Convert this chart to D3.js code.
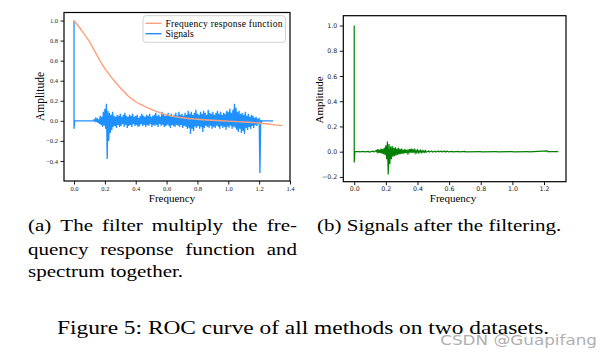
<!DOCTYPE html>
<html>
<head>
<meta charset="utf-8">
<script src="https://cdn.jsdelivr.net/npm/d3@7"></script>
<style>body{margin:0;background:#fff}</style>
</head>
<body>
<div id="fig"></div>
<script>
// frequency response function (left panel, orange)
const respFreq = [0, 0.05, 0.1, 0.15, 0.2, 0.25, 0.3, 0.35, 0.4, 0.45, 0.5, 0.55, 0.6, 0.7, 0.8, 0.9, 1.0, 1.1, 1.2, 1.3, 1.35];
const respAmp  = [1.0, 0.90, 0.79, 0.65, 0.52, 0.42, 0.33, 0.25, 0.19, 0.15, 0.115, 0.085, 0.06, 0.03, 0.015, 0.005, -0.003, -0.012, -0.022, -0.04, -0.048];

// raw signal (left panel, blue): [freq, high, low] of the noisy band
const signalRaw = [
  [0.13,.01,-.005],[0.14,.02,-.01],[0.15,.03,-.02],[0.16,.015,-.03],[0.17,.05,-.04],[0.18,.04,-.06],
  [0.19,.09,-.05],[0.20,.12,-.08],[0.21,.17,-.38],[0.22,.10,-.20],[0.23,.08,-.12],[0.24,.06,-.09],
  [0.25,.09,-.06],[0.26,.05,-.05],[0.27,.04,-.07],[0.28,.06,-.04],[0.29,.05,-.06],[0.30,.07,-.05],
  [0.31,.04,-.03],[0.32,.06,-.06],[0.33,.08,-.04],[0.34,.05,-.07],[0.35,.04,-.05],[0.36,.06,-.04],
  [0.37,.05,-.06],[0.38,.07,-.03],[0.39,.04,-.05],[0.40,.05,-.04],[0.41,.06,-.06],[0.42,.03,-.05],
  [0.43,.05,-.03],[0.44,.07,-.05],[0.45,.05,-.04],[0.46,.04,-.06],[0.47,.06,-.04],[0.48,.05,-.05],
  [0.49,.07,-.03],[0.50,.04,-.06],[0.51,.05,-.04],[0.52,.06,-.05],[0.53,.08,-.04],[0.54,.05,-.06],
  [0.55,.06,-.03],[0.56,.04,-.05],[0.57,.09,-.04],[0.58,.07,-.06],[0.59,.05,-.05],[0.60,.06,-.04],
  [0.61,.08,-.05],[0.62,.05,-.07],[0.63,.07,-.04],[0.64,.04,-.05],[0.65,.06,-.06],[0.66,.08,-.04],
  [0.67,.05,-.05],[0.68,.09,-.06],[0.69,.06,-.04],[0.70,.07,-.07],[0.71,.05,-.05],[0.72,.08,-.06],
  [0.73,.06,-.08],[0.74,.10,-.07],[0.75,.07,-.13],[0.76,.09,-.08],[0.77,.06,-.10],[0.78,.08,-.06],
  [0.79,.11,-.07],[0.80,.07,-.05],[0.81,.06,-.08],[0.82,.09,-.06],[0.83,.07,-.11],[0.84,.10,-.07],
  [0.85,.08,-.05],[0.86,.06,-.06],[0.87,.11,-.07],[0.88,.08,-.05],[0.89,.07,-.08],[0.90,.09,-.06],
  [0.91,.06,-.07],[0.92,.08,-.05],[0.93,.10,-.06],[0.94,.07,-.08],[0.95,.09,-.05],[0.96,.06,-.07],
  [0.97,.08,-.06],[0.98,.07,-.09],[0.99,.10,-.06],[1.00,.09,-.07],[1.01,.12,-.05],[1.02,.08,-.08],
  [1.03,.11,-.06],[1.04,.17,-.07],[1.05,.13,-.09],[1.06,.09,-.11],[1.07,.10,-.08],[1.08,.07,-.12],
  [1.09,.08,-.10],[1.10,.06,-.13],[1.11,.09,-.07],[1.12,.05,-.09],[1.13,.07,-.06],[1.14,.04,-.08],
  [1.15,.06,-.05],[1.16,.05,-.07],[1.17,.03,-.04],[1.18,.04,-.05],[1.19,.02,-.03],[1.20,.03,-.52],
  [1.21,.01,-.02]
];
const signalRawEnd = 1.29;

// filtered signal (right panel, green): [freq, high, low]
const signalFilt = [
  [0.03,.002,-.002],[0.06,.003,-.002],[0.09,.002,-.003],[0.12,.004,-.002],[0.14,.01,-.005],
  [0.15,.02,-.01],[0.16,.015,-.01],[0.17,.025,-.015],[0.18,.02,-.02],[0.19,.03,-.025],[0.20,.05,-.06],
  [0.21,.08,-.18],[0.22,.06,-.10],[0.23,.04,-.06],[0.24,.045,-.04],[0.25,.03,-.035],[0.26,.035,-.03],
  [0.27,.025,-.025],[0.28,.03,-.02],[0.29,.02,-.02],[0.30,.025,-.015],[0.31,.015,-.015],[0.32,.02,-.01],
  [0.33,.015,-.012],[0.34,.01,-.01],[0.35,.02,-.008],[0.36,.025,-.01],[0.37,.02,-.008],[0.38,.015,-.01],
  [0.39,.01,-.006],[0.40,.012,-.008],[0.41,.008,-.005],[0.42,.01,-.006],[0.43,.008,-.005],[0.44,.006,-.004],
  [0.45,.008,-.004],[0.47,.005,-.003],[0.49,.006,-.003],[0.51,.004,-.003],[0.53,.005,-.002],[0.55,.004,-.003],
  [0.57,.006,-.002],[0.59,.004,-.002],[0.62,.003,-.002],[0.66,.002,-.002],[0.70,.002,-.001],[0.80,.001,-.001],
  [0.90,.001,-.001],[1.00,.001,-.001],[1.10,.001,-.001],[1.22,.006,-.001]
];
const signalFiltEnd = 1.29;

const ticksA_x = [0, 0.2, 0.4, 0.6, 0.8, 1.0, 1.2, 1.4];
const ticksA_y = [-0.4, -0.2, 0, 0.2, 0.4, 0.6, 0.8, 1.0];
const ticksB_x = [0, 0.2, 0.4, 0.6, 0.8, 1.0, 1.2];
const ticksB_y = [-0.2, 0, 0.2, 0.4, 0.6, 0.8, 1.0];

const captionA = ["(a) The filter multiply the fre-", "quency response function and", "spectrum together."];
const captionB = "(b) Signals after the filtering.";
const figCaption = "Figure 5: ROC curve of all methods on two datasets.";

const serif = "'Liberation Serif', 'Times New Roman', serif";
const sans = "'DejaVu Sans', sans-serif";

function main(){
    let width = 612, height = 358;
    let svg = d3.select("#fig").append("svg")
        .attr("width", width).attr("height", height)
        .style("background", "#fff");

    // build zig-zag path points from a band list
    function bandPoints(band, spikeTop, spikeBottom, endF){
        let pts = [[0, spikeTop], [0, spikeBottom], [0.004, 0], [band[0][0] - 0.005, 0]];
        band.forEach(function(d){
            pts.push([d[0], d[1]]);
            pts.push([d[0] + 0.005, d[2]]);
        });
        pts.push([band[band.length-1][0] + 0.008, 0]);
        pts.push([endF, 0]);
        return pts;
    }

    function drawAxes(g, x, y, xt, yt, font, fsize){
        let xa = g.append("g")
            .attr("transform", "translate(0," + y.range()[0] + ")")
            .call(d3.axisBottom(x).tickValues(xt).tickFormat(d3.format(".1f")).tickSize(3.5).tickPadding(1.8));
        let ya = g.append("g")
            .attr("transform", "translate(" + x.range()[0] + ",0)")
            .call(d3.axisLeft(y).tickValues(yt).tickFormat(d3.format(".1f")).tickSize(3.5).tickPadding(2.5));
        [xa, ya].forEach(function(a){
            a.select(".domain").remove();
            a.selectAll("line").attr("stroke", "#000").attr("stroke-width", 0.9);
            a.selectAll("text").attr("font-family", font).attr("font-size", fsize).attr("fill", "#222");
        });
        g.append("rect")
            .attr("x", x.range()[0]).attr("y", y.range()[1])
            .attr("width", x.range()[1] - x.range()[0])
            .attr("height", y.range()[0] - y.range()[1])
            .attr("fill", "none").attr("stroke", "#000").attr("stroke-width", 1.2);
    }

    // ---------- panel (a)
    let gA = svg.append("g");
    let xA = d3.scaleLinear().domain([-0.065, 1.40]).range([64, 290]);
    let yA = d3.scaleLinear().domain([-0.6, 1.08]).range([181, 12.5]);

    let line = d3.line().x(function(d){ return xA(d[0]); }).y(function(d){ return yA(d[1]); });

    gA.append("path")
        .attr("d", line(bandPoints(signalRaw, 1.0, -0.08, signalRawEnd)))
        .attr("fill", "none").attr("stroke", "#1E90FF").attr("stroke-width", 1.3);

    gA.append("path")
        .attr("d", line.curve(d3.curveMonotoneX)(respFreq.map(function(f, i){ return [f, respAmp[i]]; })))
        .attr("fill", "none").attr("stroke", "#FFA07A").attr("stroke-width", 1.4);
    line.curve(d3.curveLinear);

    drawAxes(gA, xA, yA, ticksA_x, ticksA_y, serif, 6.5);

    // legend
    let lg = gA.append("g").attr("transform", "translate(143,15.7)");
    lg.append("rect").attr("width", 142.5).attr("height", 26.6).attr("rx", 3)
        .attr("fill", "#fff").attr("fill-opacity", 0.8).attr("stroke", "#ccc").attr("stroke-width", 0.9);
    [["Frequency response function", "#FFA07A", 7.6], ["Signals", "#1E90FF", 18]].forEach(function(d){
        lg.append("line").attr("x1", 2.5).attr("x2", 18.5).attr("y1", d[2]).attr("y2", d[2])
            .attr("stroke", d[1]).attr("stroke-width", 1.4);
        lg.append("text").attr("x", 22.5).attr("y", d[2] + 3.3).text(d[0])
            .attr("font-family", serif).attr("font-size", 9.6).attr("fill", "#000")
            .attr("textLength", d[0].length > 10 ? 117 : null);
    });

    gA.append("text").attr("transform", "translate(44,96.5) rotate(-90)")
        .attr("text-anchor", "middle").attr("font-family", serif).attr("font-size", 11.5).text("Amplitude");
    gA.append("text").attr("x", 172).attr("y", 202)
        .attr("text-anchor", "middle").attr("font-family", serif).attr("font-size", 11).text("Frequency");

    // ---------- panel (b)
    let gB = svg.append("g");
    let xB = d3.scaleLinear().domain([-0.069, 1.339]).range([343.3, 566]);
    let yB = d3.scaleLinear().domain([-0.238, 1.078]).range([181.7, 15.7]);
    let lineB = d3.line().x(function(d){ return xB(d[0]); }).y(function(d){ return yB(d[1]); });

    gB.append("path")
        .attr("d", lineB(bandPoints(signalFilt, 1.0, -0.085, signalFiltEnd)))
        .attr("fill", "none").attr("stroke", "#008000").attr("stroke-width", 1.2);

    drawAxes(gB, xB, yB, ticksB_x, ticksB_y, sans, 6.3);

    gB.append("text").attr("transform", "translate(323,100) rotate(-90)")
        .attr("text-anchor", "middle").attr("font-family", serif).attr("font-size", 11).text("Amplitude");
    gB.append("text").attr("x", 453).attr("y", 202)
        .attr("text-anchor", "middle").attr("font-family", serif).attr("font-size", 11).text("Frequency");

    // ---------- captions (the scan is stretched sideways, so scale x)
    const sx = 1.2;
    let capG = svg.append("g").attr("transform", "scale(" + sx + ",1)");
    function justified(str, x0, w, y, justify){
        let words = str.split(" ");
        let t = capG.append("text").attr("font-family", serif).attr("font-size", 17.5).attr("y", y);
        let spans = words.map(function(wd){ return t.append("tspan").text(wd); });
        let widths = spans.map(function(s){ return s.node().getComputedTextLength(); });
        let gap = justify ? (w / sx - d3.sum(widths)) / (words.length - 1) : 4.4;
        let cx = x0 / sx;
        spans.forEach(function(s, i){ s.attr("x", cx); cx += widths[i] + gap; });
    }
    justified(captionA[0], 28, 269, 231.5, true);
    justified(captionA[1], 28, 269, 255, true);
    justified(captionA[2], 28, 269, 277.5, false);
    justified(captionB, 317, 243, 231.5, false);

    capG.append("text").attr("x", 57 / sx).attr("y", 334)
        .attr("font-family", serif).attr("font-size", 19.5).text(figCaption);

    svg.append("g").attr("transform", "scale(1.2,1)")
        .append("text").attr("x", 597 / 1.2).attr("y", 345).attr("text-anchor", "end")
        .attr("font-family", sans).attr("font-size", 14).attr("fill", "#b0b0b0")
        .text("CSDN @Guapifang");
}

main();
</script>
</body>
</html>
